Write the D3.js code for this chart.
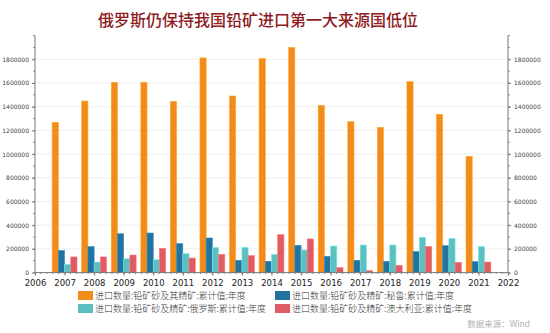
<!DOCTYPE html>
<html><head><meta charset="utf-8">
<script src="https://cdn.jsdelivr.net/npm/d3@7"></script>
<style>body{margin:0;background:#fff}svg{display:block}</style>
</head><body>
<svg id="c" width="550" height="333"></svg>
<script>
const years = [2007,2008,2009,2010,2011,2012,2013,2014,2015,2016,2017,2018,2019,2020,2021];
const total = [1268000,1448000,1606000,1606000,1445000,1812000,1490000,1808000,1900000,1412000,1274000,1226000,1611000,1336000,981000];
const peru = [185000,219000,328000,334000,244000,292000,104000,95000,230000,137000,104000,95000,177000,227000,92000];
const russia = [70000,89000,117000,109000,160000,213000,213000,154000,191000,224000,233000,233000,298000,289000,219000];
const australia = [132000,132000,148000,205000,123000,154000,143000,320000,284000,42000,16000,61000,219000,87000,89000];
const seriesNames = ["进口数量:铅矿砂及其精矿:累计值:年度","进口数量:铅矿砂及精矿:秘鲁:累计值:年度","进口数量:铅矿砂及精矿:俄罗斯:累计值:年度","进口数量:铅矿砂及精矿:澳大利亚:累计值:年度"];
const colors = ["#F28A1C","#22739F","#5EBFC1","#DE5C62"];
const yTicks = [0,200000,400000,600000,800000,1000000,1200000,1400000,1600000,1800000];
const xTicks = d3.range(2006,2023);
const title = "俄罗斯仍保持我国铅矿进口第一大来源国低位";
const source = "数据来源：Wind";

const series = [total, peru, russia, australia];
const svg = d3.select("#c");
const L = 35, R = 508, T = 35.6, B = 272.6;
const x = d3.scaleLinear().domain([2006,2022]).range([L,R]);
const y = d3.scaleLinear().domain([0,2000000]).range([B,T]);
const step = x(2007)-x(2006);
const bw = step*0.21;

svg.append("text").attr("x",258).attr("y",26).attr("text-anchor","middle")
  .attr("font-family","'Noto Sans CJK SC'").attr("font-weight",500).attr("font-size",16)
  .attr("fill","#8E1B22").text(title);

// gridlines
svg.append("g").selectAll("line").data(yTicks.slice(1)).join("line")
  .attr("x1",L).attr("x2",R).attr("y1",d=>y(d)).attr("y2",d=>y(d))
  .attr("stroke","#efefef").attr("stroke-width",1);

// bars
series.forEach((s,i)=>{
  svg.append("g").selectAll("rect").data(years.map((yr,k)=>({yr,v:s[k]}))).join("rect")
    .attr("x",d=>x(d.yr)-2*bw+i*bw).attr("width",bw)
    .attr("y",d=>y(d.v)).attr("height",d=>B-y(d.v))
    .attr("fill",colors[i])
    .attr("stroke",d3.color(colors[i]).brighter(0.6)).attr("stroke-width",0.6);
});

// left axis
const minor = d3.range(0,2000001,100000);
const gl = svg.append("g").attr("transform",`translate(${L},0)`);
gl.call(d3.axisLeft(y).tickValues(yTicks).tickSize(3).tickFormat(d3.format("d")));
gl.selectAll(".tick text").attr("font-size",6).attr("fill","#444").attr("font-family","'DejaVu Sans'");
gl.select(".domain").attr("stroke","#777").attr("d",`M0,${T}V${B}`);
gl.selectAll(".tick line").attr("stroke","#777");
gl.selectAll(".mn").data(minor).join("line").attr("class","mn").attr("x1",0).attr("x2",-2).attr("y1",d=>y(d)).attr("y2",d=>y(d)).attr("stroke","#888");

const gr = svg.append("g").attr("transform",`translate(${R},0)`);
gr.call(d3.axisRight(y).tickValues(yTicks).tickSize(3).tickFormat(d3.format("d")));
gr.selectAll(".tick text").attr("font-size",6).attr("fill","#444").attr("font-family","'DejaVu Sans'");
gr.select(".domain").attr("stroke","#777").attr("d",`M0,${T}V${B}`);
gr.selectAll(".tick line").attr("stroke","#777");
gr.selectAll(".mn").data(minor).join("line").attr("class","mn").attr("x1",0).attr("x2",2).attr("y1",d=>y(d)).attr("y2",d=>y(d)).attr("stroke","#888");

// bottom axis
const gb = svg.append("g").attr("transform",`translate(0,${B})`);
gb.call(d3.axisBottom(x).tickValues(xTicks).tickSize(3).tickFormat(d3.format("d")));
gb.select(".domain").attr("stroke","#777").attr("d",`M${L},0H${R}`);
gb.selectAll(".tick line").attr("stroke","#777");
gb.selectAll(".tick text").attr("font-size",8.5).attr("fill","#222").attr("font-family","'DejaVu Sans'").attr("dy","0.9em");
const xminor = d3.range(0,16*5+1).map(k=>2006+k/5);
gb.selectAll(".mn").data(xminor).join("line").attr("class","mn").attr("x1",d=>x(d)).attr("x2",d=>x(d)).attr("y1",0).attr("y2",1.5).attr("stroke","#888");

// legend
const lg = svg.append("g");
const pos = [[78,291],[275,291],[78,304],[275,304]];
seriesNames.forEach((n,i)=>{
  const [lx,ly] = pos[i];
  lg.append("rect").attr("x",lx).attr("y",ly).attr("width",15).attr("height",9).attr("fill",colors[i]);
  lg.append("text").attr("x",lx+17).attr("y",ly+8).attr("font-size",9).attr("fill","#333")
    .attr("font-family","'Noto Sans CJK SC'").attr("font-weight",300).text(n);
});

svg.append("text").attr("x",530).attr("y",327).attr("text-anchor","end").attr("font-size",8.5)
  .attr("fill","#b0b0b0").attr("font-family","'Noto Sans CJK SC'").text(source);
</script>
</body></html>
